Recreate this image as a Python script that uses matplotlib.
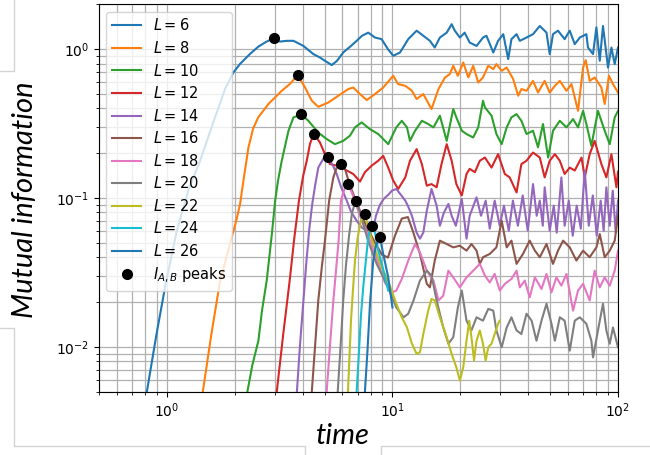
#!/usr/bin/env python3

import matplotlib
matplotlib.use('Agg')
import matplotlib.pyplot as plt
from matplotlib.lines import Line2D

# Mutual information I_{A,B}(t) for each system size L, as (time, value) pairs
L6 = [(0.79, 0.0038), (0.815, 0.005), (0.897, 0.0119), (0.99, 0.0271), (1.107, 0.0603),
      (1.25, 0.115), (1.404, 0.178), (1.603, 0.320), (1.813, 0.542), (1.966, 0.693),
      (2.112, 0.797), (2.339, 0.930), (2.537, 1.036), (2.753, 1.119), (2.97, 1.18),
      (3.175, 1.124), (3.41, 1.137), (3.64, 1.137), (4.03, 1.05), (4.46, 0.926),
      (4.77, 0.878), (5.02, 0.835), (5.38, 0.781), (5.68, 0.835), (6.05, 0.949),
      (6.48, 1.036), (6.94, 1.137), (7.33, 1.23), (7.81, 1.29), (8.37, 1.196),
      (8.95, 1.167), (9.55, 1.0), (10.08, 0.902), (10.8, 0.949), (11.75, 1.167),
      (12.8, 1.33), (13.7, 1.23), (14.66, 1.137), (15.4, 1.025), (16.23, 1.196),
      (17.4, 1.29), (18.3, 1.47), (18.9, 1.33), (19.9, 1.196), (20.9, 1.29),
      (22.0, 1.107), (23.6, 1.05), (25.2, 1.196), (26.1, 1.23), (28.0, 0.949),
      (29.4, 1.137), (31.0, 1.26), (32.6, 0.857), (33.7, 1.167), (35.5, 1.26),
      (36.7, 1.137), (39.3, 1.196), (42.0, 1.26), (45.0, 1.43), (48.2, 1.29),
      (49.8, 0.926), (51.5, 1.26), (54.2, 1.33), (58.0, 1.167), (61.1, 1.33),
      (64.3, 1.08), (67.7, 1.196), (72.4, 1.26), (73.6, 1.025), (77.5, 0.926),
      (80.2, 1.40), (83.0, 0.835), (85.8, 1.43), (90.3, 0.752), (93.5, 1.025),
      (96.7, 0.793), (100, 1.025)]

L8 = [(1.40, 0.0038), (1.443, 0.005), (1.571, 0.0119), (1.717, 0.0271), (1.868, 0.0443),
      (2.03, 0.0704), (2.112, 0.0916), (2.20, 0.141), (2.30, 0.219), (2.41, 0.292),
      (2.54, 0.348), (2.82, 0.428), (3.23, 0.525), (3.516, 0.585), (3.80, 0.669),
      (4.10, 0.552), (4.39, 0.450), (4.69, 0.410), (5.20, 0.438), (5.75, 0.486),
      (6.37, 0.539), (6.70, 0.552), (7.18, 0.499), (7.69, 0.455), (8.37, 0.499),
      (9.10, 0.552), (10.08, 0.662), (10.6, 0.582), (11.4, 0.567), (12.2, 0.525),
      (12.8, 0.462), (13.7, 0.499), (14.9, 0.396), (16.0, 0.539), (17.1, 0.645),
      (17.97, 0.680), (18.6, 0.773), (19.5, 0.662), (20.6, 0.813), (21.7, 0.645),
      (22.8, 0.773), (24.0, 0.597), (25.2, 0.645), (26.6, 0.773), (28.0, 0.734),
      (28.9, 0.793), (30.5, 0.715), (32.1, 0.752), (34.3, 0.629), (36.1, 0.486),
      (37.3, 0.539), (39.3, 0.525), (42.0, 0.612), (44.2, 0.511), (47.3, 0.612),
      (49.8, 0.511), (52.5, 0.567), (55.2, 0.612), (59.1, 0.525), (62.2, 0.582),
      (66.5, 0.385), (70.0, 0.752), (71.9, 0.844), (74.9, 0.612), (78.8, 0.645),
      (84.4, 0.552), (87.3, 0.428), (91.2, 0.662), (95.0, 0.582), (100, 0.511)]

L10 = [(2.24, 0.0038), (2.275, 0.005), (2.39, 0.0075), (2.545, 0.011), (2.64, 0.0175),
       (2.77, 0.0279), (2.92, 0.0573), (3.02, 0.096), (3.11, 0.131), (3.23, 0.178),
       (3.46, 0.283), (3.64, 0.348), (3.95, 0.364), (4.24, 0.330), (4.69, 0.275),
       (5.11, 0.249), (5.56, 0.230), (6.05, 0.242), (6.48, 0.262), (6.82, 0.298),
       (7.30, 0.322), (7.95, 0.290), (8.65, 0.269), (9.58, 0.230), (10.4, 0.298),
       (11.0, 0.330), (11.6, 0.298), (11.96, 0.242), (12.6, 0.283), (13.5, 0.330),
       (14.4, 0.314), (15.2, 0.298), (16.23, 0.357), (17.4, 0.242), (18.6, 0.396),
       (19.2, 0.348), (20.3, 0.283), (21.3, 0.269), (22.8, 0.255), (24.0, 0.298),
       (25.2, 0.450), (25.7, 0.406), (27.5, 0.357), (28.9, 0.269), (30.5, 0.230),
       (32.1, 0.298), (33.7, 0.348), (35.5, 0.366), (37.3, 0.330), (39.3, 0.269),
       (42.0, 0.283), (44.2, 0.219), (46.5, 0.314), (49.0, 0.187), (51.5, 0.283),
       (55.2, 0.330), (59.1, 0.298), (63.2, 0.339), (66.5, 0.298), (70.0, 0.385),
       (72.4, 0.314), (76.2, 0.224), (81.5, 0.385), (87.3, 0.283), (91.9, 0.230),
       (96.7, 0.348), (100, 0.385)]

L12 = [(3.03, 0.0038), (3.07, 0.005), (3.28, 0.0122), (3.516, 0.0293), (3.66, 0.0517),
       (3.85, 0.096), (4.02, 0.141), (4.17, 0.178), (4.31, 0.231), (4.48, 0.271),
       (4.77, 0.236), (5.02, 0.197), (5.285, 0.169), (5.66, 0.165), (5.96, 0.160),
       (6.27, 0.153), (6.70, 0.145), (7.18, 0.129), (7.55, 0.149), (8.09, 0.165),
       (8.65, 0.178), (9.10, 0.192), (9.58, 0.160), (10.08, 0.131), (10.6, 0.115),
       (11.4, 0.1375), (11.96, 0.178), (12.8, 0.213), (13.5, 0.169), (14.2, 0.121),
       (14.9, 0.124), (15.7, 0.118), (16.5, 0.169), (17.4, 0.230), (18.3, 0.178),
       (19.2, 0.124), (20.3, 0.104), (21.3, 0.145), (22.0, 0.157), (23.2, 0.149),
       (24.4, 0.178), (25.7, 0.187), (27.5, 0.160), (29.4, 0.197), (31.5, 0.145),
       (33.1, 0.1375), (35.5, 0.109), (37.3, 0.169), (39.3, 0.178), (42.0, 0.202),
       (45.0, 0.187), (47.3, 0.1375), (49.8, 0.178), (52.5, 0.197), (55.2, 0.178),
       (58.0, 0.145), (61.1, 0.160), (64.3, 0.153), (68.9, 0.187), (71.2, 0.1375),
       (74.9, 0.197), (78.8, 0.242), (84.4, 0.169), (88.8, 0.1375), (93.5, 0.197),
       (98.4, 0.118), (100, 0.15)]

L14 = [(3.72, 0.0038), (3.77, 0.005), (3.89, 0.0102), (4.03, 0.0205), (4.14, 0.0351),
       (4.27, 0.0603), (4.41, 0.0912), (4.54, 0.121), (4.69, 0.160), (4.94, 0.184),
       (5.16, 0.189), (5.45, 0.165), (5.66, 0.145), (5.91, 0.119), (6.27, 0.096),
       (6.55, 0.081), (6.94, 0.0704), (7.33, 0.0632), (7.69, 0.0603), (7.95, 0.0585),
       (8.22, 0.0622), (8.45, 0.0760), (8.80, 0.090), (9.17, 0.099), (9.58, 0.105),
       (9.95, 0.112), (10.4, 0.115), (10.9, 0.105), (11.4, 0.096), (11.7, 0.0888),
       (12.2, 0.0760), (12.8, 0.0585), (13.24, 0.0533), (13.7, 0.0585), (14.2, 0.0822),
       (14.9, 0.115), (15.7, 0.0888), (16.23, 0.0651), (16.9, 0.0797), (17.7, 0.0912),
       (18.3, 0.0760), (19.1, 0.0651), (20.3, 0.0985), (21.3, 0.0533), (22.0, 0.0760),
       (23.6, 0.101), (24.7, 0.0760), (25.9, 0.096), (27.0, 0.0622), (28.4, 0.096),
       (29.9, 0.0651), (31.2, 0.0888), (32.8, 0.0603), (34.2, 0.096), (36.0, 0.0651),
       (37.8, 0.104), (39.8, 0.0603), (42.0, 0.124), (43.6, 0.0760), (45.0, 0.096),
       (46.4, 0.0651), (47.3, 0.118), (49.8, 0.0603), (51.9, 0.0888), (53.5, 0.0585),
       (56.1, 0.1375), (58.0, 0.0651), (60.5, 0.096), (63.0, 0.0558), (65.6, 0.0888),
       (68.4, 0.0622), (71.2, 0.153), (74.2, 0.0651), (77.3, 0.104), (80.5, 0.0558),
       (83.8, 0.096), (86.4, 0.0603), (88.8, 0.118), (91.9, 0.0651), (94.8, 0.112),
       (97.7, 0.0585), (100, 0.096)]

L16 = [(4.33, 0.0038), (4.39, 0.005), (4.54, 0.0102), (4.69, 0.0205), (4.87, 0.0351),
       (5.02, 0.0517), (5.24, 0.096), (5.47, 0.1375), (5.66, 0.160), (5.91, 0.168),
       (6.16, 0.157), (6.48, 0.121), (7.03, 0.0888), (7.63, 0.0651), (8.28, 0.0517),
       (8.98, 0.0416), (9.55, 0.0398), (10.26, 0.0558), (11.0, 0.0727), (11.7, 0.0745),
       (12.3, 0.0603), (13.24, 0.0423), (14.2, 0.0265), (14.66, 0.0251), (15.4, 0.0380),
       (16.23, 0.0517), (17.4, 0.0491), (18.6, 0.0466), (19.9, 0.0478), (21.3, 0.0443),
       (22.4, 0.0491), (23.6, 0.0443), (24.4, 0.0361), (25.2, 0.040), (27.0, 0.0421),
       (28.9, 0.0466), (30.5, 0.0704), (32.1, 0.0466), (33.7, 0.0517), (35.5, 0.0361),
       (37.9, 0.0421), (40.6, 0.0517), (42.8, 0.0443), (45.0, 0.040), (48.2, 0.0491),
       (51.5, 0.0361), (54.2, 0.0443), (57.1, 0.0517), (61.1, 0.0466), (65.4, 0.0380),
       (70.0, 0.0443), (74.9, 0.040), (80.2, 0.0466), (83.0, 0.0573), (87.3, 0.040),
       (91.9, 0.0443), (96.7, 0.0517), (100, 0.076)]

L18 = [(5.05, 0.0038), (5.11, 0.005), (5.285, 0.0102), (5.47, 0.0205), (5.62, 0.0325),
       (5.77, 0.0517), (5.91, 0.096), (6.16, 0.118), (6.37, 0.124), (6.68, 0.104),
       (7.18, 0.0760), (7.95, 0.0517), (8.63, 0.0368), (9.26, 0.027), (9.92, 0.0232),
       (10.4, 0.0239), (11.0, 0.0286), (11.75, 0.0380), (12.6, 0.0491), (13.24, 0.0431),
       (14.2, 0.0325), (15.2, 0.0279), (16.0, 0.0205), (16.8, 0.0221), (17.7, 0.0325),
       (18.6, 0.0293), (19.9, 0.0251), (21.3, 0.0293), (22.8, 0.0325), (24.4, 0.0361),
       (25.7, 0.0301), (27.0, 0.0271), (28.4, 0.0309), (29.9, 0.0239), (31.5, 0.0265),
       (33.7, 0.0286), (35.5, 0.0325), (36.7, 0.0251), (38.6, 0.0279), (40.6, 0.0215),
       (42.8, 0.0293), (45.8, 0.0245), (48.2, 0.0309), (50.7, 0.0232), (53.3, 0.0293),
       (56.1, 0.0258), (59.1, 0.0309), (63.2, 0.0175), (66.5, 0.0239), (70.0, 0.0265),
       (74.9, 0.0205), (78.8, 0.0325), (83.0, 0.0251), (87.3, 0.0293), (91.9, 0.0258),
       (96.7, 0.0325), (100, 0.0443)]

L20 = [(5.65, 0.0038), (5.72, 0.005), (5.91, 0.011), (6.05, 0.0205), (6.22, 0.0351),
       (6.42, 0.0558), (6.62, 0.0797), (6.87, 0.096), (7.18, 0.0797), (7.79, 0.0517),
       (8.51, 0.0361), (9.42, 0.0265), (10.4, 0.0184), (11.2, 0.0158), (11.75, 0.0167),
       (12.4, 0.0205), (13.24, 0.0279), (14.2, 0.0325), (14.9, 0.0301), (15.7, 0.0205),
       (16.8, 0.0135), (17.7, 0.0105), (18.6, 0.0116), (19.5, 0.0184), (20.3, 0.0239),
       (21.3, 0.0150), (22.4, 0.0129), (23.6, 0.0158), (25.2, 0.0150), (26.6, 0.018),
       (28.0, 0.0175), (28.9, 0.0129), (30.5, 0.00994), (32.1, 0.0135), (33.7, 0.0158),
       (35.5, 0.0129), (37.3, 0.0122), (39.3, 0.0167), (41.4, 0.0150), (43.5, 0.0110),
       (45.8, 0.0150), (48.2, 0.0195), (50.7, 0.0143), (52.5, 0.0110), (55.2, 0.0158),
       (58.0, 0.0150), (61.1, 0.00944), (64.3, 0.0150), (67.7, 0.0158), (72.4, 0.0143),
       (76.2, 0.0110), (77.5, 0.0085), (81.5, 0.0129), (85.8, 0.0195), (88.8, 0.0129),
       (91.9, 0.0105), (95.0, 0.0135), (100, 0.00994)]

L22 = [(6.30, 0.0038), (6.35, 0.005), (6.55, 0.0150), (6.68, 0.0239), (6.82, 0.0380),
       (7.03, 0.0558), (7.25, 0.0704), (7.55, 0.078), (7.95, 0.0573), (8.51, 0.0421),
       (8.95, 0.0342), (9.42, 0.0293), (9.92, 0.0239), (10.4, 0.0195), (11.0, 0.0158),
       (11.6, 0.0135), (12.2, 0.0105), (12.8, 0.00897), (13.24, 0.0092), (13.7, 0.0122),
       (14.4, 0.0175), (14.9, 0.0210), (15.4, 0.0205), (16.23, 0.0158), (17.4, 0.0116),
       (18.3, 0.00897), (19.2, 0.0073), (19.9, 0.00594), (20.6, 0.0073), (21.3, 0.0110),
       (21.9, 0.0150), (22.4, 0.0116), (23.0, 0.0081), (23.6, 0.0110), (24.4, 0.0129),
       (25.2, 0.0105), (25.9, 0.0081), (26.6, 0.00994), (27.5, 0.0105), (28.4, 0.0122),
       (29.4, 0.0143), (29.9, 0.0150)]

L24 = [(6.90, 0.0038), (6.94, 0.005), (7.11, 0.00944), (7.25, 0.0162), (7.42, 0.0251),
       (7.63, 0.0386), (7.81, 0.0544), (7.95, 0.0603), (8.14, 0.0649), (8.37, 0.0585),
       (8.65, 0.0443), (9.08, 0.0336), (9.58, 0.0239)]

L26 = [(7.50, 0.0038), (7.55, 0.005), (7.75, 0.00944), (7.95, 0.0195), (8.22, 0.0380),
       (8.45, 0.0478), (8.80, 0.0544), (9.10, 0.0421), (9.58, 0.0293), (10.0, 0.0184)]

sizes = [6, 8, 10, 12, 14, 16, 18, 20, 22, 24, 26]
series = [L6, L8, L10, L12, L14, L16, L18, L20, L22, L24, L26]

# first maximum of each curve
peak_times = [2.97, 3.80, 3.95, 4.48, 5.16, 5.91, 6.37, 6.87, 7.55, 8.14, 8.80]
peak_values = [1.18, 0.669, 0.364, 0.271, 0.189, 0.168, 0.124, 0.096, 0.078, 0.0649, 0.0544]

W, H = 650, 455


def frame_line(fig, xs, ys):
    """Thin light-grey rule, given in figure pixels from the top-left corner."""
    fig.add_artist(Line2D([x / W for x in xs], [1 - y / H for y in ys],
                          transform=fig.transFigure, color='#d4d4d4', lw=1.0))


def main():
    fig = plt.figure(figsize=(W / 100, H / 100), dpi=100)
    ax = fig.add_axes([99 / W, (H - 391.7) / H, 519 / W, 387.4 / H])

    for L, pts in zip(sizes, series):
        t = [p[0] for p in pts]
        mi = [p[1] for p in pts]
        ax.plot(t, mi, lw=1.5, label=r'$L=%d$' % L)

    ax.plot(peak_times, peak_values, 'o', color='black', ms=7, zorder=5,
            label=r'$I_{A,B}$ peaks')

    ax.set_xscale('log')
    ax.set_yscale('log')
    ax.set_xlim(0.5, 100)
    ax.set_ylim(0.005, 2)
    ax.grid(True, which='both', color='#b0b0b0', lw=0.9)
    ax.legend(loc='upper left', fontsize=10.5, labelspacing=0.45)

    # axis titles set in their own boxes around the plot
    fig.text(25 / W, 1 - 200 / H, 'Mutual information', rotation=90,
             family='Lato', style='italic', fontsize=21, ha='center', va='center')
    fig.text(343 / W, 1 - 436 / H, 'time', family='Lato', style='italic',
             fontsize=21, ha='center', va='center')

    frame_line(fig, [14, 14, 0], [0, 71, 71])
    frame_line(fig, [0, 14, 14, 305, 305], [328, 328, 446, 446, H])
    frame_line(fig, [381, 381, W], [H, 446, 446])

    fig.savefig('out.png', dpi=100)


if __name__ == '__main__':
    main()
